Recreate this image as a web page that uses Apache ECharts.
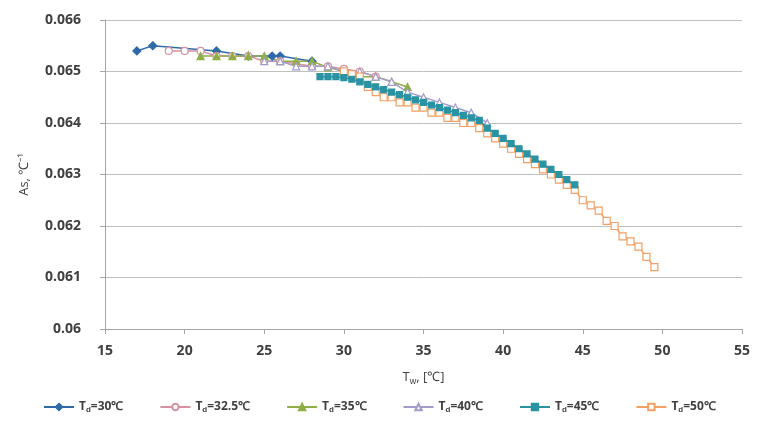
<!DOCTYPE html>
<html><head><meta charset="utf-8">
<script src="https://cdn.jsdelivr.net/npm/echarts@6/dist/echarts.min.js"></script>
<style>html,body{margin:0;padding:0;background:#fff}#c{width:758px;height:423px}</style>
</head><body><div id="c"></div>
<script>
const xTicks = [15,20,25,30,35,40,45,50,55];
const yTicks = [0.06,0.061,0.062,0.063,0.064,0.065,0.066];

const td30X = [17, 18, 22, 24, 25.5, 26, 28];
const td30Y = [0.0654, 0.0655, 0.0654, 0.0653, 0.0653, 0.0653, 0.0652];

const td325X = [19, 20, 21, 22, 23, 24, 25, 26, 27, 28, 29, 30, 31, 32];
const td325Y = [0.0654, 0.0654, 0.0654, 0.0653, 0.0653, 0.0653, 0.0652, 0.0652, 0.06515, 0.0651, 0.0651, 0.06505, 0.0650, 0.0649];

const td35X = [21, 22, 23, 24, 25, 26, 27, 28, 29, 30, 31, 32, 33, 34];
const td35Y = [0.0653, 0.0653, 0.0653, 0.0653, 0.0653, 0.0652, 0.0652, 0.0652, 0.06508, 0.0650, 0.0649, 0.0649, 0.0648, 0.0647];

const td40X = [25, 26, 27, 28, 29, 30, 31, 32, 33, 34, 35, 36, 37, 38, 39];
const td40Y = [0.0652, 0.0652, 0.0651, 0.0651, 0.0651, 0.0650, 0.0650, 0.0649, 0.0648, 0.0646, 0.0645, 0.0644, 0.0643, 0.0642, 0.0640];

const td45X = [28.5, 29, 29.5, 30, 30.5, 31, 31.5, 32, 32.5, 33, 33.5, 34, 34.5, 35, 35.5, 36, 36.5, 37, 37.5, 38, 38.5, 39, 39.5, 40, 40.5, 41, 41.5, 42, 42.5, 43, 43.5, 44, 44.5];
const td45Y = [0.0649, 0.0649, 0.0649, 0.06488, 0.06485, 0.0648, 0.06475, 0.0647, 0.06465, 0.0646, 0.06455, 0.0645, 0.06445, 0.0644, 0.06435, 0.0643, 0.06425, 0.0642, 0.06415, 0.0641, 0.06405, 0.0639, 0.0638, 0.0637, 0.0636, 0.0635, 0.0634, 0.0633, 0.0632, 0.0631, 0.0630, 0.0629, 0.0628];

const td50X = [30, 30.5, 31, 31.5, 32, 32.5, 33, 33.5, 34, 34.5, 35, 35.5, 36, 36.5, 37, 37.5, 38, 38.5, 39, 39.5, 40, 40.5, 41, 41.5, 42, 42.5, 43, 43.5, 44, 44.5, 45, 45.5, 46, 46.5, 47, 47.5, 48, 48.5, 49, 49.5];
const td50Y = [0.0650, 0.06495, 0.0649, 0.0647, 0.0646, 0.0645, 0.0645, 0.0644, 0.0644, 0.0643, 0.0643, 0.0642, 0.0642, 0.0641, 0.0641, 0.0640, 0.0640, 0.0639, 0.0638, 0.0637, 0.0636, 0.0635, 0.0634, 0.0633, 0.0632, 0.0631, 0.0630, 0.0629, 0.0628, 0.0627, 0.0625, 0.0624, 0.0623, 0.0621, 0.0620, 0.0618, 0.0617, 0.0616, 0.0614, 0.0612];

const names = ['Td=30℃','Td=32.5℃','Td=35℃','Td=40℃','Td=45℃','Td=50℃'];
const labels = ['{t|T}{s|d}{t|=30℃}','{t|T}{s|d}{t|=32.5℃}','{t|T}{s|d}{t|=35℃}','{t|T}{s|d}{t|=40℃}','{t|T}{s|d}{t|=45℃}','{t|T}{s|d}{t|=50℃}'];

function pairs(xs, ys){ return xs.map((x,i)=>[x, ys[i]]); }

const defs = [
  {x:td30X, y:td30Y, color:'#2F6AA8', symbol:'diamond', fill:true, size:8},
  {x:td325X, y:td325Y, color:'#D9909F', symbol:'circle', fill:false, size:7},
  {x:td35X, y:td35Y, color:'#8EAF47', symbol:'triangle', fill:true, size:7},
  {x:td40X, y:td40Y, color:'#A29CCB', symbol:'triangle', fill:false, size:7},
  {x:td45X, y:td45Y, color:'#2A93A3', symbol:'rect', fill:true, size:6},
  {x:td50X, y:td50Y, color:'#F2A064', symbol:'rect', fill:false, size:7}
];

const series = defs.map((d,i)=>({
  name: names[i],
  type:'line',
  data: pairs(d.x, d.y),
  symbol: d.symbol,
  symbolSize: d.size,
  showAllSymbol: true,
  lineStyle:{color:d.color, width:1.5},
  itemStyle:{color: d.fill ? d.color : '#fff', borderColor:d.color, borderWidth:1.2},
  z: i===4 ? 3 : 2
}));

const chart = echarts.init(document.getElementById('c'));
chart.setOption({
  animation:false,
  backgroundColor:'#fff',
  grid:{left:105, right:16, top:20, bottom:94},
  xAxis:{
    type:'value', min:15, max:55, interval:5,
    name:'{t|T}{s|w}{t|, [℃]}', nameLocation:'middle', nameGap:40,
    nameTextStyle:{rich:{t:{fontSize:13,color:'#404040',fontFamily:'Open Sans'},s:{fontSize:9,color:'#404040',padding:[8,0,0,0]}}},
    axisLine:{lineStyle:{color:'#A6A6A6'}},
    axisTick:{show:true,lineStyle:{color:'#A6A6A6'}},
    axisLabel:{color:'#404040',fontSize:14,fontWeight:'bold',fontFamily:'Open Sans',margin:15},
    splitLine:{show:false}
  },
  yAxis:{
    type:'value', min:0.06, max:0.066, interval:0.001,
    name:'As, ℃⁻¹', nameLocation:'middle', nameGap:74, nameRotate:90,
    nameTextStyle:{fontSize:13,color:'#404040',fontFamily:'Open Sans'},
    axisLine:{show:true,lineStyle:{color:'#A6A6A6'}},
    axisTick:{show:true,lineStyle:{color:'#A6A6A6'}},
    axisLabel:{color:'#404040',fontSize:14,fontWeight:'bold',fontFamily:'Open Sans',margin:24,
      formatter:v=>String(+v.toFixed(3))},
    splitLine:{lineStyle:{color:'#BFBFBF'}}
  },
  legend:{
    bottom:4, left:38, itemGap:36, itemWidth:30, itemHeight:8,
    data:names,
    formatter:n=>labels[names.indexOf(n)],
    textStyle:{rich:{t:{fontSize:12,color:'#404040',fontWeight:'bold',fontFamily:'Open Sans'},s:{fontSize:8,color:'#404040',fontWeight:'bold',padding:[6,0,0,0]}}}
  },
  series
});
</script></body></html>
